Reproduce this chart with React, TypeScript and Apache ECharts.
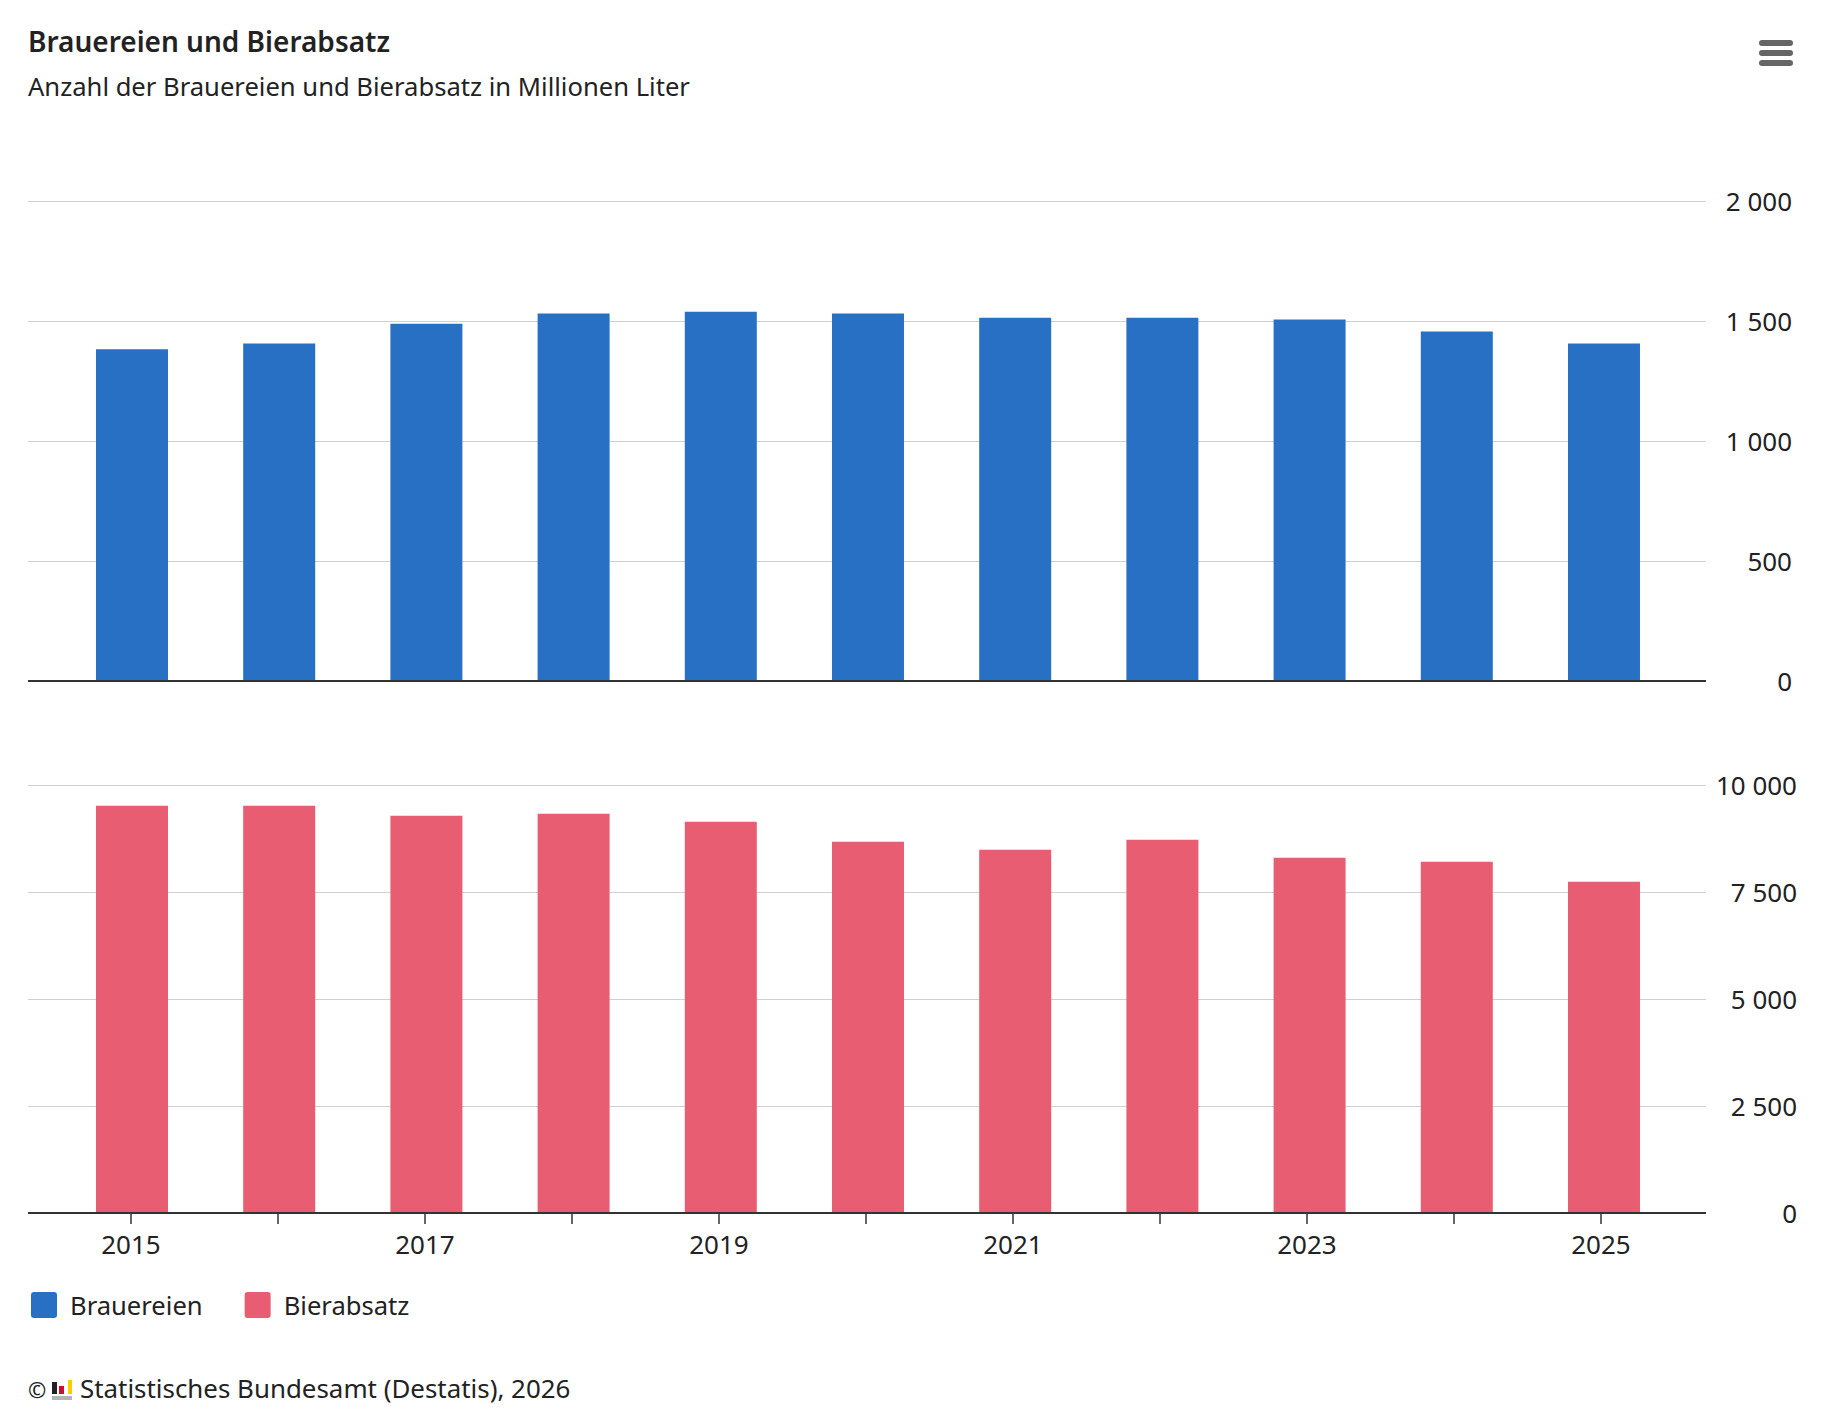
import { useEffect, useRef } from 'react'
import * as echarts from 'echarts'

const years = [2015, 2016, 2017, 2018, 2019, 2020, 2021, 2022, 2023, 2024, 2025]
const labelYears = [2015, 2017, 2019, 2021, 2023, 2025]
const brauereien = [1382, 1406, 1489, 1531, 1539, 1531, 1514, 1514, 1506, 1456, 1406]
const bierabsatz = [9516, 9516, 9282, 9329, 9142, 8674, 8487, 8721, 8300, 8206, 7739]

const BLUE = '#2770c4'
const RED = '#e95d72'
const TEXT = '#222222'
const AXIS = '#333333'
const GRID = '#d0d0d0'
const FONT = '"Noto Sans", sans-serif'

const swatch = 'path://M3 0H23A3 3 0 0 1 26 3V23A3 3 0 0 1 23 26H3A3 3 0 0 1 0 23V3A3 3 0 0 1 3 0Z'

const thousands = (v: number) => String(v).replace(/\B(?=(\d{3})+$)/g, ' ')
const pairs = (vals: number[]) => vals.map((v, i) => [years[i], v])

export default function App() {
  const ref = useRef<HTMLDivElement>(null)

  useEffect(() => {
    if (!ref.current) return
    const chart = echarts.init(ref.current, undefined, { renderer: 'svg' })

    // x-Achse der Balken, nur die Grundlinie ist sichtbar
    const barAxis = (gridIndex: number) => ({
      type: 'value' as const,
      gridIndex,
      min: 2014.2935,
      max: 2025.693,
      axisLine: { show: true, lineStyle: { color: AXIS, width: 2, cap: 'butt' as const } },
      axisTick: { show: false },
      axisLabel: { show: false },
      splitLine: { show: false },
      z: 5,
    })

    const valueAxis = (gridIndex: number, max: number, interval: number, margin: number) => ({
      type: 'value' as const,
      gridIndex,
      position: 'right' as const,
      min: 0,
      max,
      interval,
      axisLine: { show: false },
      axisTick: { show: false },
      axisLabel: {
        color: TEXT,
        fontFamily: FONT,
        fontSize: 26,
        align: 'right' as const,
        margin,
        formatter: (v: number) => thousands(v),
      },
      splitLine: { lineStyle: { color: GRID, width: 1 } },
    })

    chart.setOption({
      animation: false,
      backgroundColor: '#ffffff',
      grid: [
        { left: 28, top: 201, width: 1678, height: 480 },
        { left: 28, top: 785, width: 1678, height: 428 },
      ],
      xAxis: [
        barAxis(0),
        barAxis(1),
        // sichtbare Zeitachse unten
        {
          type: 'value',
          gridIndex: 1,
          position: 'bottom',
          min: 2014.2993,
          max: 2025.7143,
          axisLine: { show: false },
          axisTick: { show: true, length: 11, customValues: years, lineStyle: { color: AXIS, width: 1.5 } },
          axisLabel: {
            show: true,
            customValues: labelYears,
            color: TEXT,
            fontFamily: FONT,
            fontSize: 26,
            margin: 18,
            formatter: (v: number) => String(v),
          },
          splitLine: { show: false },
        },
      ],
      yAxis: [valueAxis(0, 2000, 500, 86), valueAxis(1, 10000, 2500, 91)],
      legend: {
        left: 31,
        top: 1292,
        padding: 0,
        itemWidth: 26,
        itemHeight: 26,
        itemGap: 42,
        icon: swatch,
        data: ['Brauereien', 'Bierabsatz'],
        textStyle: { color: TEXT, fontFamily: FONT, fontSize: 25.6, padding: [2, 0, 0, 8] },
        selectedMode: false,
      },
      series: [
        {
          name: 'Brauereien',
          type: 'bar',
          xAxisIndex: 0,
          yAxisIndex: 0,
          barWidth: 72,
          itemStyle: { color: BLUE },
          data: pairs(brauereien),
        },
        {
          name: 'Bierabsatz',
          type: 'bar',
          xAxisIndex: 1,
          yAxisIndex: 1,
          barWidth: 72,
          itemStyle: { color: RED },
          data: pairs(bierabsatz),
        },
      ],
      graphic: [
        { type: 'text', x: 28, y: 41, style: { text: 'Brauereien und Bierabsatz', fill: TEXT, font: `600 28px ${FONT}`, textVerticalAlign: 'middle' } },
        { type: 'text', x: 28, y: 86, style: { text: 'Anzahl der Brauereien und Bierabsatz in Millionen Liter', fill: TEXT, font: `400 25.6px ${FONT}`, textVerticalAlign: 'middle' } },
        { type: 'text', x: 28, y: 1389, style: { text: '©', fill: TEXT, font: `400 22px ${FONT}`, textVerticalAlign: 'middle' } },
        { type: 'text', x: 80, y: 1388, style: { text: 'Statistisches Bundesamt (Destatis), 2026', fill: TEXT, font: `400 25.9px ${FONT}`, textVerticalAlign: 'middle' } },
        // Logo
        { type: 'rect', shape: { x: 52, y: 1382, width: 5, height: 12 }, style: { fill: '#222222' } },
        { type: 'rect', shape: { x: 59, y: 1386, width: 5, height: 8 }, style: { fill: '#c8102e' } },
        { type: 'rect', shape: { x: 68, y: 1380, width: 4, height: 14 }, style: { fill: '#ffcc00' } },
        { type: 'rect', shape: { x: 52, y: 1396, width: 20, height: 4 }, style: { fill: '#b3b3b3' } },
        // Menü
        { type: 'rect', shape: { x: 1759, y: 40, width: 34, height: 6, r: 3 }, style: { fill: '#666666' } },
        { type: 'rect', shape: { x: 1759, y: 50, width: 34, height: 6, r: 3 }, style: { fill: '#666666' } },
        { type: 'rect', shape: { x: 1759, y: 60, width: 34, height: 6, r: 3 }, style: { fill: '#666666' } },
      ],
    })

    return () => chart.dispose()
  }, [])

  return <div ref={ref} style={{ position: 'absolute', left: 0, top: 0, width: 1844, height: 1428 }} />
}
